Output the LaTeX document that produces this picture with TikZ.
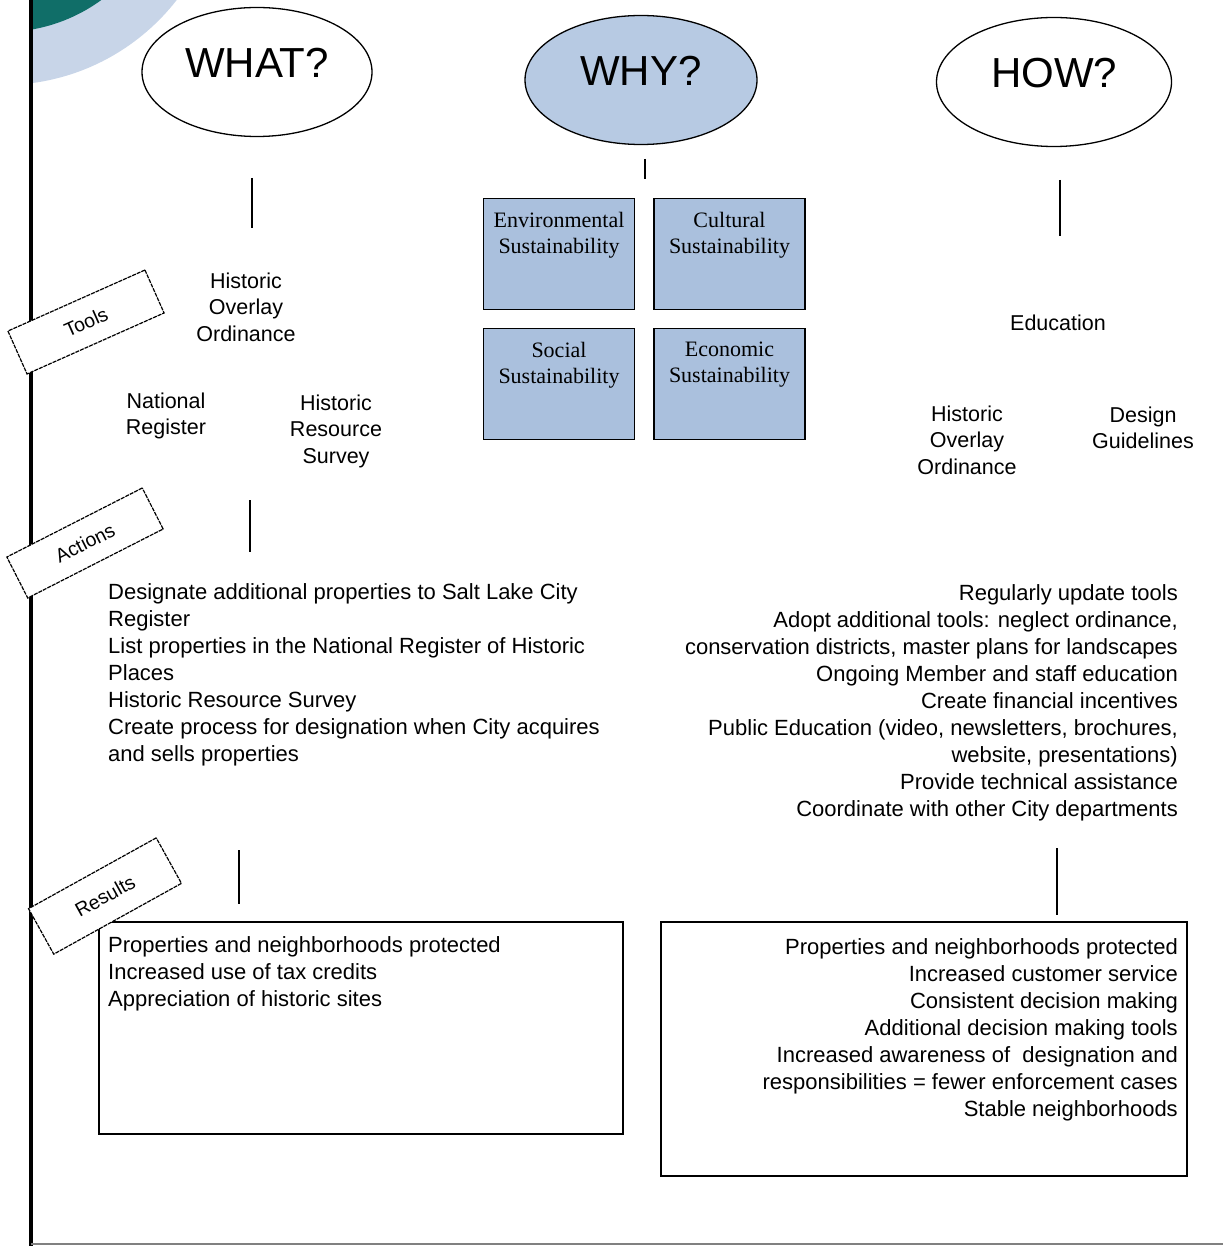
\documentclass[tikz,border=0pt]{standalone}
\usepackage{fontspec}
\setmainfont{Liberation Sans}
\newfontfamily\boxserif{Liberation Serif}
\usetikzlibrary{shapes.geometric}
\definecolor{tealdark}{RGB}{16,110,104}
\definecolor{ringblue}{RGB}{200,213,232}
\definecolor{whyblue}{RGB}{183,202,227}
\definecolor{susblue}{RGB}{170,192,221}

\begin{document}
\begin{tikzpicture}[x=1pt,y=-1pt,
  question/.style={ellipse, draw, line width=1.3pt, minimum width=230pt,
    minimum height=129pt, inner sep=0pt, text depth=18pt,
    font=\fontsize{42}{48}\selectfont},
  sus/.style={draw, line width=1.6pt, fill=susblue, minimum width=151pt,
    minimum height=111pt, inner sep=0pt},
  sustext/.style={anchor=north, inner sep=0pt, align=center,
    font=\boxserif\fontsize{22}{26}\selectfont},
  item/.style={inner sep=0pt, align=center, font=\fontsize{21.5}{26.5}\selectfont},
  tag/.style={draw, fill=white, line width=1.2pt, dash pattern=on 4pt off 1pt,
    inner sep=0pt, font=\fontsize{19.5}{24}\selectfont},
  listL/.style={anchor=north west, inner sep=0pt, align=left,
    font=\fontsize{22}{27}\selectfont},
  listR/.style={anchor=north east, inner sep=0pt, align=right,
    font=\fontsize{22}{27}\selectfont},
  resbox/.style={draw, line width=1.5pt, anchor=north west, inner sep=0pt},
  link/.style={line width=1.6pt}
]
\useasboundingbox (0,0) rectangle (1223,1246);

% logo corner
\begin{scope}
  \clip (33,0) rectangle (400,300);
  \fill[ringblue] (3,-135) circle (220pt);
  \fill[tealdark] (3,-135) circle (167pt);
\end{scope}

% page margin rules
\draw[line width=3.5pt] (31,0) -- (31,1246);
\draw[gray, line width=1.2pt] (31,1244) -- (1223,1244);

% the three questions
\node[question] (what) at (257,72) {WHAT?};
\node[question, fill=whyblue, minimum width=232pt] (why) at (641,80) {WHY?};
\node[question, minimum width=235pt] (how) at (1054,82) {HOW?};

% stems under the questions
\coordinate (whatA) at (252,178); \coordinate (whatB) at (252,228);
\coordinate (whyA) at (645,159);  \coordinate (whyB) at (645,179);
\coordinate (howA) at (1060,180); \coordinate (howB) at (1060,236);
\draw[link] (whatA) -- (whatB);
\draw[link] (whyA) -- (whyB);
\draw[link] (howA) -- (howB);

% sustainability quadrants
\node[sus] (env) at (559,254) {};
\node[sus] (cul) at (729.5,254) {};
\node[sus] (soc) at (559,384) {};
\node[sus] (eco) at (729.5,384) {};
\node[sustext] at ([yshift=-14pt]env.north) {Environmental\\Sustainability};
\node[sustext] at ([yshift=-14pt]cul.north) {Cultural\\Sustainability};
\node[sustext] at ([yshift=-14pt]soc.north) {Social\\Sustainability};
\node[sustext] at ([yshift=-14pt]eco.north) {Economic\\Sustainability};

% tools, left column
\node[item] (hooL) at (246,307) {Historic\\Overlay\\Ordinance};
\node[item] (natreg) at (166,416) {National\\Register};
\node[item] (hrs) at (336,431) {Historic\\Resource\\Survey};

% tools, right column
\node[item] (edu) at (1058,323) {Education};
\node[item] (hooR) at (967,440) {Historic\\Overlay\\Ordinance};
\node[item] (dg) at (1143,428) {Design\\Guidelines};

% actions
\coordinate (actA) at (250,500); \coordinate (actB) at (250,552);
\draw[link] (actA) -- (actB);
\node[listL] (actL) at (108,583) {Designate additional properties to Salt Lake City\\
Register\\
List properties in the National Register of Historic\\
Places\\
Historic Resource Survey\\
Create process for designation when City acquires\\
and sells properties};
\node[listR] (actR) at (1178,584) {Regularly update tools\\
Adopt additional tools: neglect ordinance,\\
conservation districts, master plans for landscapes\\
Ongoing Member and staff education\\
Create financial incentives\\
Public Education (video, newsletters, brochures,\\
website, presentations)\\
Provide technical assistance\\
Coordinate with other City departments};

% results
\coordinate (resA) at (239,850); \coordinate (resB) at (239,904);
\coordinate (resC) at (1057,848); \coordinate (resD) at (1057,915);
\draw[link] (resA) -- (resB);
\draw[link] (resC) -- (resD);
\node[resbox, minimum width=524pt, minimum height=212pt] (resboxL) at (98,921) {};
\node[resbox, minimum width=526pt, minimum height=254pt] (resboxR) at (660,921) {};
\node[listL] (resL) at (108,936) {Properties and neighborhoods protected\\
Increased use of tax credits\\
Appreciation of historic sites};
\node[listR] (resR) at (1178,938) {Properties and neighborhoods protected\\
Increased customer service\\
Consistent decision making\\
Additional decision making tools\\
Increased awareness of \ designation and\\
responsibilities = fewer enforcement cases\\
Stable neighborhoods};

% row tags, laid over the margin rule and the box corner
\node[tag, rotate=24, minimum width=150pt, minimum height=47pt] (tools) at (86,322) {Tools};
\node[tag, rotate=27, minimum width=152pt, minimum height=46pt] (actions) at (85,543) {Actions};
\node[tag, rotate=29, minimum width=146pt, minimum height=52pt] (results) at (105,896) {Results};
\end{tikzpicture}
\end{document}
